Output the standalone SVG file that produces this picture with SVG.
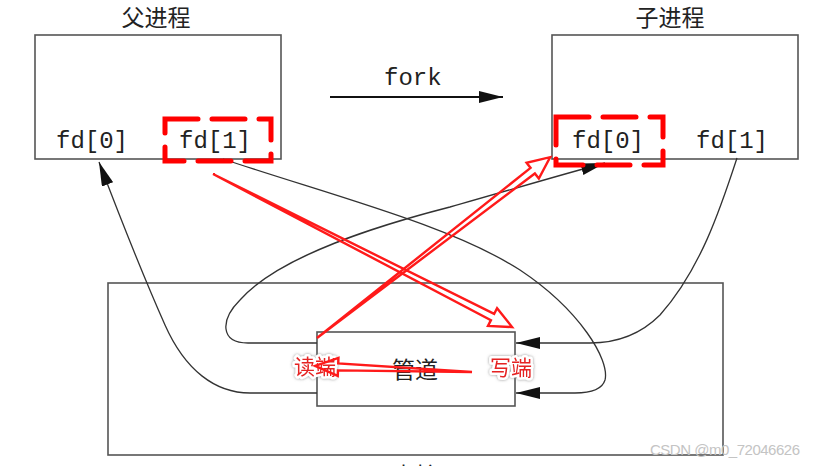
<svg xmlns="http://www.w3.org/2000/svg" width="825" height="466" viewBox="0 0 825 466">
<style>
.box{fill:none;stroke:#555;stroke-width:1.6}
.title{font-family:"Noto Sans CJK SC","Noto Sans",sans-serif;font-size:23px;fill:#222;text-anchor:middle}
.mono{font-family:"Liberation Mono","DejaVu Sans Mono",monospace;font-size:24px;fill:#222}
.curve{fill:none;stroke:#333;stroke-width:1.3}
.dash{fill:none;stroke:#ff0000;stroke-width:5;stroke-dasharray:33 14;stroke-linecap:round}
.red{fill:none;stroke:#ff1a1a;stroke-width:2.4;stroke-linejoin:miter}
.rlabel{font-family:"Noto Sans CJK SC","Noto Sans",sans-serif;font-size:21px;fill:#e52020;text-anchor:middle;stroke:#fff;stroke-width:5;paint-order:stroke;stroke-linejoin:round}
</style>
<defs>
<marker id="ah" viewBox="0 0 24 12" refX="24" refY="6" markerWidth="24" markerHeight="12" markerUnits="userSpaceOnUse" orient="auto">
<path d="M0,0 L24,6 L0,12 z" fill="#111"/>
</marker>
<filter id="glow" x="-20%" y="-30%" width="140%" height="160%">
<feDropShadow dx="0" dy="0" stdDeviation="1.5" flood-color="#777" flood-opacity="0.8"/>
</filter>
</defs>

<g id="parent">
<text class="title" x="156" y="26">父进程</text>
<rect class="box" x="35" y="35" width="246" height="124"/>
<text class="mono" x="56" y="148">fd[0]</text>
<text class="mono" x="179" y="148">fd[1]</text>
</g>

<g id="child">
<text class="title" x="670" y="26">子进程</text>
<rect class="box" x="552" y="35" width="246" height="124"/>
<text class="mono" x="572" y="148">fd[0]</text>
<text class="mono" x="696" y="148">fd[1]</text>
</g>

<g id="fork">
<text class="mono" x="384" y="85">fork</text>
</g>

<g id="kernel">
<rect class="box" x="108" y="283" width="615" height="172" stroke-width="2"/>
<text class="title" x="415" y="484">内核</text>
</g>

<g id="pipe">
<rect class="box" x="317" y="332" width="198" height="74" fill="#fff"/>
<text class="title" x="415" y="378">管道</text>
</g>

<g id="connectors">
<line x1="330" y1="97" x2="503" y2="97" stroke="#111" stroke-width="2" marker-end="url(#ah)"/>
<path class="curve" d="M317,393 L250,393 C215,393 185,370 165,325 C145,280 118,212 99,162" marker-end="url(#ah)"/>
<path class="curve" d="M223,159 C330,195 450,225 520,270 C580,310 610,360 605,380 C602,390 590,393 575,393 L516,393" marker-end="url(#ah)"/>
<path class="curve" d="M317,343 L248,343 C220,343 220,320 240,300 C280,255 380,225 450,207 C510,190 560,175 605,163" marker-end="url(#ah)"/>
<path class="curve" d="M737,158 C720,210 700,270 660,315 C640,335 615,343 590,343 L516,343" marker-end="url(#ah)"/>
</g>

<g id="highlights">
<rect class="dash" x="165" y="119" width="106" height="42"/>
<rect class="dash" x="556" y="117" width="107" height="48"/>
<text class="rlabel" x="315" y="374" filter="url(#glow)">读端</text>
<text class="rlabel" x="511" y="375" filter="url(#glow)">写端</text>
<g transform="translate(213,174) rotate(27.1)">
<path class="red" d="M0,0 L314,-3.5 L314,-10 L336,0 L314,10 L314,3.5 Z"/>
</g>
<g transform="translate(317,338) rotate(-37.8)">
<path class="red" d="M0,0 L273,-3.5 L273,-10 L295,0 L273,10 L273,3.5 Z"/>
</g>
<g transform="translate(472,372) rotate(-177.8)">
<path class="red" d="M0,0 L134,-3.5 L134,-9 L157,0 L134,9 L134,3.5 Z"/>
</g>
</g>

<text x="650" y="455" font-family="Liberation Sans, sans-serif" font-size="15" fill="#c4c4c4" textLength="150">CSDN @m0_72046626</text>
</svg>
